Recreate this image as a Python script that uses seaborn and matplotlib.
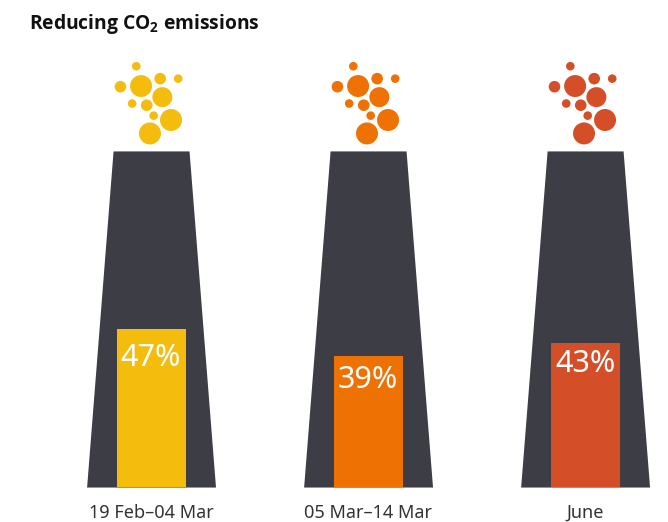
import pandas as pd
import matplotlib.pyplot as plt
import seaborn as sns

sns.set_theme(style='white')
plt.rcParams['font.family'] = ['Noto Sans', 'DejaVu Sans']
plt.rcParams['mathtext.fontset'] = 'custom'
plt.rcParams['mathtext.rm'] = 'Open Sans:bold'
plt.rcParams['mathtext.default'] = 'rm'

# values
periods = ['19 Feb–04 Mar', '05 Mar–14 Mar', 'June']
reduction = [47, 39, 43]
label_y = [38.5, 31.9, 36.7]  # labels do not sit at a fixed distance from the bar top
colors = ['#F4BD0E', '#EE7203', '#D44F28']

# bubbles above the chimney (x offset from chimney centre, height in %, radius in px)
bubble_dx = [-0.068, -0.141, -0.046, 0.042, 0.125, 0.052, -0.087, -0.020, 0.012, 0.092, -0.005]
bubble_y = [125.2, 119.1, 119.3, 121.5, 121.5, 116.0, 114.1, 113.6, 110.5, 109.2, 105.2]
bubble_r = [4.3, 5.8, 11, 5.8, 4.3, 10, 4.3, 5.8, 4.3, 11, 11]

# chimney shape
chimney_top = 100
chimney_top_half = 0.175
chimney_bottom_half = 0.297

df = pd.DataFrame({'period': periods, 'reduction': reduction})

fig = plt.figure(figsize=(6.68, 5.22), dpi=100)
ax = fig.add_axes([0, 0, 1, 1])

# chimneys
for i in range(len(periods)):
    ax.fill_betweenx([0, chimney_top],
                     [i - chimney_bottom_half, i - chimney_top_half],
                     [i + chimney_bottom_half, i + chimney_top_half],
                     color='#3C3D45', lw=0, zorder=1)

# bars
sns.barplot(data=df, x='period', y='reduction', hue='period', palette=colors, legend=False,
            width=0.318, saturation=1, linewidth=0, ax=ax, zorder=2)
for i, v in enumerate(reduction):
    ax.text(i, label_y[i], f'{v}%', color='white', fontsize=22, ha='center', va='center', zorder=3)

# bubbles
rows = []
for i, p in enumerate(periods):
    for dx, y, r in zip(bubble_dx, bubble_y, bubble_r):
        rows.append({'x': i + dx, 'y': y, 's': (2 * r * 0.72) ** 2, 'period': p})
bubbles = pd.DataFrame(rows)
sns.scatterplot(data=bubbles, x='x', y='y', hue='period', palette=colors, size='s',
                sizes=(bubbles['s'].min(), bubbles['s'].max()), legend=False,
                linewidth=0, ax=ax, clip_on=False)

ax.set_xlim(-0.696, 2.382)
ax.set_ylim(-10.4, 144.9)
ax.set_xlabel('')
ax.set_ylabel('')
ax.set_yticks([])
ax.set_xticks(range(len(periods)))
ax.set_xticklabels(periods)
ax.tick_params(axis='x', length=0, pad=-13, labelsize=13, labelcolor='#333333')
sns.despine(ax=ax, left=True, bottom=True)

fig.text(29 / 668, 1 - 24 / 522, r'Reducing CO$_2$ emissions', fontsize=13.9,
         fontweight='bold', family=['Open Sans', 'DejaVu Sans'], color='#111111', va='center', ha='left')

plt.savefig('out.png', dpi=100)
